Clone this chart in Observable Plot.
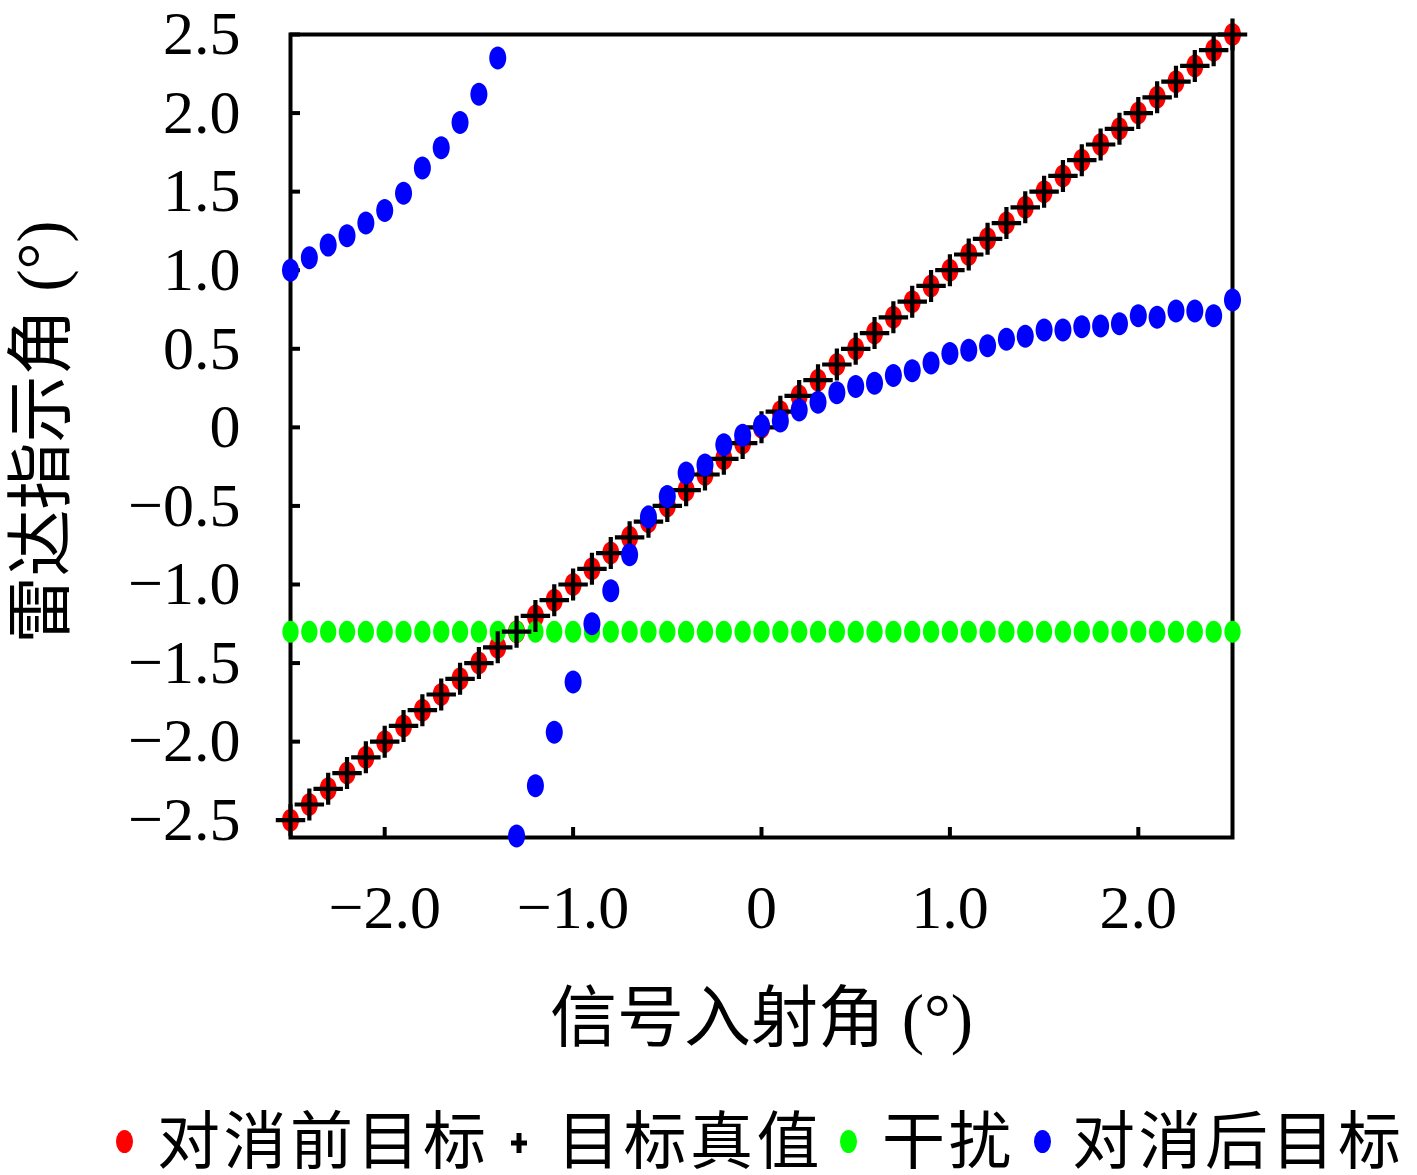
<!DOCTYPE html>
<html><head><meta charset="utf-8">
<script src="https://cdn.jsdelivr.net/npm/d3@7"></script>
<script src="https://cdn.jsdelivr.net/npm/@observablehq/plot@0.6"></script>
<style>
body{margin:0;background:#fff;}
#wrap{position:relative;width:1417px;height:1175px;background:#fff;}
#wrap svg.plot{position:absolute;left:0;top:0;}
.lg{position:absolute;top:1109px;height:54px;font-family:"Noto Sans CJK SC";font-size:63px;letter-spacing:3.5px;line-height:54px;color:#000;white-space:nowrap;}
.mk{position:absolute;width:17px;height:23px;border-radius:50%;top:1129.5px;margin-left:-8.5px;}
.pl{position:absolute;top:1132px;margin-left:-10px;line-height:0;}
</style></head><body><div id="wrap"></div>
<script>
// incidence angle (°)
const angles = [-2.5,-2.4,-2.3,-2.2,-2.1,-2.0,-1.9,-1.8,-1.7,-1.6,-1.5,-1.4,-1.3,-1.2,-1.1,-1.0,-0.9,-0.8,-0.7,-0.6,-0.5,-0.4,-0.3,-0.2,-0.1,0,0.1,0.2,0.3,0.4,0.5,0.6,0.7,0.8,0.9,1.0,1.1,1.2,1.3,1.4,1.5,1.6,1.7,1.8,1.9,2.0,2.1,2.2,2.3,2.4,2.5];
// 对消前目标
const beforeCancel = [-2.5,-2.4,-2.3,-2.2,-2.1,-2.0,-1.9,-1.8,-1.7,-1.6,-1.5,-1.4,-1.3,-1.2,-1.1,-1.0,-0.9,-0.8,-0.7,-0.6,-0.5,-0.4,-0.3,-0.2,-0.1,0,0.1,0.2,0.3,0.4,0.5,0.6,0.7,0.8,0.9,1.0,1.1,1.2,1.3,1.4,1.5,1.6,1.7,1.8,1.9,2.0,2.1,2.2,2.3,2.4,2.5];
// 目标真值
const trueTarget = [-2.5,-2.4,-2.3,-2.2,-2.1,-2.0,-1.9,-1.8,-1.7,-1.6,-1.5,-1.4,-1.3,-1.2,-1.1,-1.0,-0.9,-0.8,-0.7,-0.6,-0.5,-0.4,-0.3,-0.2,-0.1,0,0.1,0.2,0.3,0.4,0.5,0.6,0.7,0.8,0.9,1.0,1.1,1.2,1.3,1.4,1.5,1.6,1.7,1.8,1.9,2.0,2.1,2.2,2.3,2.4,2.5];
// 干扰
const jamming = [-1.3,-1.3,-1.3,-1.3,-1.3,-1.3,-1.3,-1.3,-1.3,-1.3,-1.3,-1.3,-1.3,-1.3,-1.3,-1.3,-1.3,-1.3,-1.3,-1.3,-1.3,-1.3,-1.3,-1.3,-1.3,-1.3,-1.3,-1.3,-1.3,-1.3,-1.3,-1.3,-1.3,-1.3,-1.3,-1.3,-1.3,-1.3,-1.3,-1.3,-1.3,-1.3,-1.3,-1.3,-1.3,-1.3,-1.3,-1.3,-1.3,-1.3,-1.3];
// 对消后目标
const afterCancel = [1.00,1.08,1.16,1.22,1.30,1.38,1.49,1.65,1.78,1.94,2.12,2.35,-2.60,-2.28,-1.94,-1.62,-1.25,-1.04,-0.81,-0.57,-0.44,-0.29,-0.24,-0.11,-0.05,0.01,0.04,0.11,0.16,0.22,0.26,0.28,0.33,0.36,0.41,0.47,0.49,0.52,0.56,0.58,0.62,0.62,0.64,0.645,0.66,0.71,0.70,0.74,0.74,0.71,0.81];

const xTicks = [-2,-1,0,1,2];
const xTickLabels = ["−2.0","−1.0","0","1.0","2.0"];
const yTicks = [-2.5,-2,-1.5,-1,-0.5,0,0.5,1,1.5,2,2.5];
const yTickLabels = ["−2.5","−2.0","−1.5","−1.0","−0.5","0","0.5","1.0","1.5","2.0","2.5"];
const xLabel = "信号入射角 (°)";
const yLabel = "雷达指示角 (°)";
const seriesNames = ["对消前目标","目标真值","干扰","对消后目标"];
const seriesColors = ["#ff0000","#000000","#00ff00","#0000ff"];

const xMap = new Map(xTicks.map((d,i)=>[d,xTickLabels[i]]));
const yMap = new Map(yTicks.map((d,i)=>[d,yTickLabels[i]]));

const ellipse = {draw(ctx, size){
  const r = Math.sqrt(size/Math.PI), rx = r*0.74, ry = r, k = 0.5523;
  ctx.moveTo(rx,0);
  ctx.bezierCurveTo(rx, ry*k, rx*k, ry, 0, ry);
  ctx.bezierCurveTo(-rx*k, ry, -rx, ry*k, -rx, 0);
  ctx.bezierCurveTo(-rx, -ry*k, -rx*k, -ry, 0, -ry);
  ctx.bezierCurveTo(rx*k, -ry, rx, -ry*k, rx, 0);
  ctx.closePath();
}};
const plus = {draw(ctx, size){
  const r = Math.sqrt(size/Math.PI);
  ctx.moveTo(-r*0.92,0); ctx.lineTo(r*0.92,0);
  ctx.moveTo(0,-r); ctx.lineTo(0,r);
}};

const W = 1417, H = 1080, mL = 290, mR = 185, mT = 34, mB = 243;
const plotW = W - mL - mR, plotH = H - mT - mB;
const serif = '"Liberation Serif", "Noto Sans CJK SC"';

const chart = Plot.plot({
  width: W, height: H,
  marginLeft: mL, marginRight: mR, marginTop: mT, marginBottom: mB,
  x: {domain: [-2.5, 2.5]},
  y: {domain: [-2.61, 2.5]},
  style: {background: "white", color: "black", overflow: "visible"},
  marks: [
    Plot.gridX(xTicks, {stroke: "black", strokeOpacity: 1, strokeWidth: 4, insetTop: plotH - 10}),
    Plot.gridY(yTicks, {stroke: "black", strokeOpacity: 1, strokeWidth: 4, insetRight: plotW - 10}),
    Plot.frame({stroke: "black", strokeWidth: 4}),
    Plot.axisX(xTicks, {tickSize: 0, tickPadding: 46, tickFormat: d => xMap.get(d), fontSize: 62, fontFamily: serif, label: null}),
    Plot.axisY(yTicks, {tickSize: 0, tickPadding: 50, tickFormat: d => yMap.get(d), fontSize: 62, fontFamily: serif, label: null}),
    Plot.text([xLabel], {frameAnchor: "bottom", dy: 182, text: d => d, fontSize: 67, fontFamily: serif, textAnchor: "middle", lineAnchor: "middle", fill: "black"}),
    Plot.text([yLabel], {frameAnchor: "left", dx: -248, dy: -4, rotate: -90, text: d => d, fontSize: 67, fontFamily: serif, textAnchor: "middle", lineAnchor: "middle", fill: "black"}),
    Plot.dot(angles, {x: angles, y: beforeCancel, symbol: ellipse, r: 11.5, fill: seriesColors[0], stroke: "none"}),
    Plot.dot(angles, {x: angles, y: jamming, symbol: ellipse, r: 11, fill: seriesColors[2], stroke: "none"}),
    Plot.dot(angles, {x: angles, y: trueTarget, symbol: plus, r: 16, fill: "none", stroke: seriesColors[1], strokeWidth: 4.2}),
    Plot.dot(angles, {x: angles, y: afterCancel, symbol: ellipse, r: 11.5, fill: seriesColors[3], stroke: "none"})
  ]
});
chart.classList.add("plot");
const wrap = document.getElementById("wrap");
wrap.appendChild(chart);

// legend below the SVG
const legendLayout = [
  {kind: "dot", at: 124, text: 157},
  {kind: "plus", at: 519, text: 557},
  {kind: "dot", at: 848, text: 882},
  {kind: "dot", at: 1042, text: 1072}
];
seriesNames.forEach((name, i) => {
  const L = legendLayout[i];
  if (L.kind === "dot") {
    const m = document.createElement("div");
    m.className = "mk"; m.style.left = L.at + "px"; m.style.background = seriesColors[i];
    wrap.appendChild(m);
  } else {
    const p = document.createElement("div");
    p.className = "pl"; p.style.left = L.at + "px";
    p.innerHTML = '<svg width="20" height="22" viewBox="0 0 20 22"><path d="M2,11H18M10,1V21" stroke="' + seriesColors[i] + '" stroke-width="5" fill="none"/></svg>';
    wrap.appendChild(p);
  }
  const t = document.createElement("div");
  t.className = "lg"; t.style.left = L.text + "px"; t.textContent = name;
  wrap.appendChild(t);
});
</script></body></html>
